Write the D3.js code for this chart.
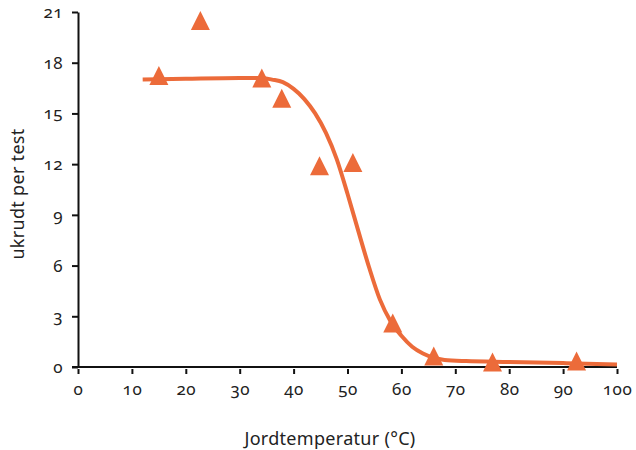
<!DOCTYPE html>
<html><head><meta charset="utf-8">
<script src="https://cdn.jsdelivr.net/npm/d3@7"></script>
<style>
body{margin:0;background:#fff;}
text{font-family:"Noto Sans","Open Sans",sans-serif;fill:#222;}
.tick text{font-variant-numeric:oldstyle-nums;font-feature-settings:"onum" 1;}
</style></head>
<body><svg id="c" width="636" height="450"></svg>
<script>
// observed points: soil temperature (°C) vs weeds per test
const obsTemp = [15, 22.7, 34.1, 37.8, 44.8, 51.0, 58.4, 66.0, 76.9, 92.5];
const obsWeeds = [17.25, 20.5, 17.1, 15.9, 11.9, 12.1, 2.6, 0.65, 0.3, 0.35];
// fitted curve
const fitTemp = [12, 20, 30, 34, 36, 38, 40, 42, 44, 46, 48, 50, 52, 54, 56, 58, 60, 62, 64, 66, 68, 72, 80, 90, 100];
const fitWeeds = [17.0, 17.05, 17.1, 17.1, 17.0, 16.85, 16.45, 15.85, 15.0, 13.85, 12.3, 10.25, 8.05, 5.9, 4.0, 2.7, 1.85, 1.2, 0.8, 0.55, 0.42, 0.35, 0.3, 0.23, 0.15];
const xTicks = [0,10,20,30,40,50,60,70,80,90,100];
const yTicks = [0,3,6,9,12,15,18,21];
const color = "#EC6B3A";

const svg = d3.select("#c");
const x = d3.scaleLinear().domain([0,100]).range([78,617]);
const y = d3.scaleLinear().domain([0,21]).range([367,12]);

const xAxis = svg.append("g").attr("transform","translate(0,367)")
  .call(d3.axisBottom(x).tickValues(xTicks).tickSize(7).tickPadding(9).tickSizeOuter(0));
const yAxis = svg.append("g").attr("transform","translate(78,0)")
  .call(d3.axisLeft(y).tickValues(yTicks).tickSize(6).tickPadding(9).tickSizeOuter(0));
[xAxis,yAxis].forEach(a=>{
  a.select(".domain").attr("stroke","#111").attr("stroke-width",2);
  a.selectAll(".tick line").attr("stroke","#111").attr("stroke-width",2);
  a.selectAll(".tick text").attr("font-size",17).attr("fill","#222").attr("letter-spacing",0.5);
});
xAxis.select(".domain").attr("d",`M72,0H${x(100)}`);
xAxis.selectAll(".tick line").attr("y1",2);

svg.append("text").attr("x",330).attr("y",445).attr("text-anchor","middle")
  .attr("font-size",18).attr("letter-spacing",0.3).text("Jordtemperatur (°C)");
svg.append("text").attr("transform","translate(24,194) rotate(-90)")
  .attr("text-anchor","middle").attr("font-size",18).attr("letter-spacing",0.3).text("ukrudt per test");

const line = d3.line().x((d,i)=>x(fitTemp[i])).y(d=>y(d)).curve(d3.curveMonotoneX);
svg.append("path").attr("d",line(fitWeeds)).attr("fill","none")
  .attr("stroke",color).attr("stroke-width",4).attr("stroke-linecap","butt");

const h = 19;
svg.append("g").selectAll("path").data(obsWeeds).join("path")
  .attr("d",(d,i)=>{const cx=x(obsTemp[i]), cy=y(d);
    return `M${cx},${cy-h/2}L${cx+h/2},${cy+h/2}L${cx-h/2},${cy+h/2}Z`;})
  .attr("fill",color);
</script></body></html>
